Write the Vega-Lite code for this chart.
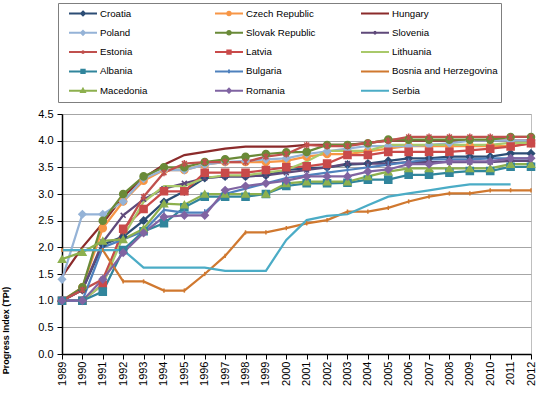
{
  "$schema": "https://vega.github.io/schema/vega-lite/v6.json",
  "autosize": "none",
  "width": 469,
  "height": 240,
  "padding": {"left": 62, "top": 114, "right": 18, "bottom": 43},
  "background": "white",
  "config": {
    "font": "Liberation Sans",
    "view": {"stroke": "#BFBFBF", "strokeWidth": 1}
  },
  "data": {"values": [
    {"country":"Croatia","year":1989,"tpi":1.0},{"country":"Croatia","year":1990,"tpi":1.2},{"country":"Croatia","year":1991,"tpi":2.05},{"country":"Croatia","year":1992,"tpi":2.2},{"country":"Croatia","year":1993,"tpi":2.5},{"country":"Croatia","year":1994,"tpi":2.85},{"country":"Croatia","year":1995,"tpi":3.05},{"country":"Croatia","year":1996,"tpi":3.3},{"country":"Croatia","year":1997,"tpi":3.33},{"country":"Croatia","year":1998,"tpi":3.33},{"country":"Croatia","year":1999,"tpi":3.35},{"country":"Croatia","year":2000,"tpi":3.45},{"country":"Croatia","year":2001,"tpi":3.48},{"country":"Croatia","year":2002,"tpi":3.5},{"country":"Croatia","year":2003,"tpi":3.55},{"country":"Croatia","year":2004,"tpi":3.57},{"country":"Croatia","year":2005,"tpi":3.62},{"country":"Croatia","year":2006,"tpi":3.67},{"country":"Croatia","year":2007,"tpi":3.67},{"country":"Croatia","year":2008,"tpi":3.7},{"country":"Croatia","year":2009,"tpi":3.7},{"country":"Croatia","year":2010,"tpi":3.7},{"country":"Croatia","year":2011,"tpi":3.76},{"country":"Croatia","year":2012,"tpi":3.76},
    {"country":"Czech Republic","year":1989,"tpi":1.0},{"country":"Czech Republic","year":1990,"tpi":1.25},{"country":"Czech Republic","year":1991,"tpi":2.36},{"country":"Czech Republic","year":1992,"tpi":2.86},{"country":"Czech Republic","year":1993,"tpi":3.25},{"country":"Czech Republic","year":1994,"tpi":3.45},{"country":"Czech Republic","year":1995,"tpi":3.45},{"country":"Czech Republic","year":1996,"tpi":3.55},{"country":"Czech Republic","year":1997,"tpi":3.6},{"country":"Czech Republic","year":1998,"tpi":3.6},{"country":"Czech Republic","year":1999,"tpi":3.6},{"country":"Czech Republic","year":2000,"tpi":3.62},{"country":"Czech Republic","year":2001,"tpi":3.7},{"country":"Czech Republic","year":2002,"tpi":3.75},{"country":"Czech Republic","year":2003,"tpi":3.75},{"country":"Czech Republic","year":2004,"tpi":3.8},{"country":"Czech Republic","year":2005,"tpi":3.85},{"country":"Czech Republic","year":2006,"tpi":3.9},{"country":"Czech Republic","year":2007,"tpi":3.9},{"country":"Czech Republic","year":2008,"tpi":3.9},{"country":"Czech Republic","year":2009,"tpi":3.9},{"country":"Czech Republic","year":2010,"tpi":3.9},{"country":"Czech Republic","year":2011,"tpi":3.9},{"country":"Czech Republic","year":2012,"tpi":3.95},
    {"country":"Hungary","year":1989,"tpi":1.45},{"country":"Hungary","year":1990,"tpi":2.0},{"country":"Hungary","year":1991,"tpi":2.45},{"country":"Hungary","year":1992,"tpi":2.95},{"country":"Hungary","year":1993,"tpi":3.3},{"country":"Hungary","year":1994,"tpi":3.55},{"country":"Hungary","year":1995,"tpi":3.73},{"country":"Hungary","year":1996,"tpi":3.79},{"country":"Hungary","year":1997,"tpi":3.85},{"country":"Hungary","year":1998,"tpi":3.89},{"country":"Hungary","year":1999,"tpi":3.89},{"country":"Hungary","year":2000,"tpi":3.89},{"country":"Hungary","year":2001,"tpi":3.92},{"country":"Hungary","year":2002,"tpi":3.92},{"country":"Hungary","year":2003,"tpi":3.92},{"country":"Hungary","year":2004,"tpi":3.96},{"country":"Hungary","year":2005,"tpi":4.0},{"country":"Hungary","year":2006,"tpi":4.0},{"country":"Hungary","year":2007,"tpi":4.0},{"country":"Hungary","year":2008,"tpi":4.0},{"country":"Hungary","year":2009,"tpi":4.0},{"country":"Hungary","year":2010,"tpi":4.0},{"country":"Hungary","year":2011,"tpi":4.0},{"country":"Hungary","year":2012,"tpi":4.0},
    {"country":"Poland","year":1989,"tpi":1.4},{"country":"Poland","year":1990,"tpi":2.62},{"country":"Poland","year":1991,"tpi":2.62},{"country":"Poland","year":1992,"tpi":2.86},{"country":"Poland","year":1993,"tpi":3.29},{"country":"Poland","year":1994,"tpi":3.45},{"country":"Poland","year":1995,"tpi":3.45},{"country":"Poland","year":1996,"tpi":3.55},{"country":"Poland","year":1997,"tpi":3.6},{"country":"Poland","year":1998,"tpi":3.62},{"country":"Poland","year":1999,"tpi":3.65},{"country":"Poland","year":2000,"tpi":3.67},{"country":"Poland","year":2001,"tpi":3.75},{"country":"Poland","year":2002,"tpi":3.8},{"country":"Poland","year":2003,"tpi":3.85},{"country":"Poland","year":2004,"tpi":3.9},{"country":"Poland","year":2005,"tpi":3.9},{"country":"Poland","year":2006,"tpi":3.9},{"country":"Poland","year":2007,"tpi":3.92},{"country":"Poland","year":2008,"tpi":3.95},{"country":"Poland","year":2009,"tpi":4.0},{"country":"Poland","year":2010,"tpi":4.0},{"country":"Poland","year":2011,"tpi":4.0},{"country":"Poland","year":2012,"tpi":4.0},
    {"country":"Slovak Republic","year":1989,"tpi":1.0},{"country":"Slovak Republic","year":1990,"tpi":1.25},{"country":"Slovak Republic","year":1991,"tpi":2.5},{"country":"Slovak Republic","year":1992,"tpi":3.0},{"country":"Slovak Republic","year":1993,"tpi":3.33},{"country":"Slovak Republic","year":1994,"tpi":3.5},{"country":"Slovak Republic","year":1995,"tpi":3.5},{"country":"Slovak Republic","year":1996,"tpi":3.6},{"country":"Slovak Republic","year":1997,"tpi":3.65},{"country":"Slovak Republic","year":1998,"tpi":3.7},{"country":"Slovak Republic","year":1999,"tpi":3.75},{"country":"Slovak Republic","year":2000,"tpi":3.78},{"country":"Slovak Republic","year":2001,"tpi":3.79},{"country":"Slovak Republic","year":2002,"tpi":3.92},{"country":"Slovak Republic","year":2003,"tpi":3.92},{"country":"Slovak Republic","year":2004,"tpi":3.95},{"country":"Slovak Republic","year":2005,"tpi":4.02},{"country":"Slovak Republic","year":2006,"tpi":4.02},{"country":"Slovak Republic","year":2007,"tpi":4.02},{"country":"Slovak Republic","year":2008,"tpi":4.02},{"country":"Slovak Republic","year":2009,"tpi":4.02},{"country":"Slovak Republic","year":2010,"tpi":4.02},{"country":"Slovak Republic","year":2011,"tpi":4.07},{"country":"Slovak Republic","year":2012,"tpi":4.07},
    {"country":"Slovenia","year":1989,"tpi":1.0},{"country":"Slovenia","year":1990,"tpi":1.2},{"country":"Slovenia","year":1991,"tpi":2.1},{"country":"Slovenia","year":1992,"tpi":2.6},{"country":"Slovenia","year":1993,"tpi":2.9},{"country":"Slovenia","year":1994,"tpi":3.1},{"country":"Slovenia","year":1995,"tpi":3.2},{"country":"Slovenia","year":1996,"tpi":3.3},{"country":"Slovenia","year":1997,"tpi":3.33},{"country":"Slovenia","year":1998,"tpi":3.33},{"country":"Slovenia","year":1999,"tpi":3.35},{"country":"Slovenia","year":2000,"tpi":3.4},{"country":"Slovenia","year":2001,"tpi":3.45},{"country":"Slovenia","year":2002,"tpi":3.5},{"country":"Slovenia","year":2003,"tpi":3.57},{"country":"Slovenia","year":2004,"tpi":3.57},{"country":"Slovenia","year":2005,"tpi":3.57},{"country":"Slovenia","year":2006,"tpi":3.6},{"country":"Slovenia","year":2007,"tpi":3.6},{"country":"Slovenia","year":2008,"tpi":3.6},{"country":"Slovenia","year":2009,"tpi":3.6},{"country":"Slovenia","year":2010,"tpi":3.6},{"country":"Slovenia","year":2011,"tpi":3.62},{"country":"Slovenia","year":2012,"tpi":3.62},
    {"country":"Estonia","year":1989,"tpi":1.0},{"country":"Estonia","year":1990,"tpi":1.2},{"country":"Estonia","year":1991,"tpi":1.4},{"country":"Estonia","year":1992,"tpi":2.3},{"country":"Estonia","year":1993,"tpi":2.95},{"country":"Estonia","year":1994,"tpi":3.4},{"country":"Estonia","year":1995,"tpi":3.57},{"country":"Estonia","year":1996,"tpi":3.6},{"country":"Estonia","year":1997,"tpi":3.6},{"country":"Estonia","year":1998,"tpi":3.6},{"country":"Estonia","year":1999,"tpi":3.7},{"country":"Estonia","year":2000,"tpi":3.75},{"country":"Estonia","year":2001,"tpi":3.92},{"country":"Estonia","year":2002,"tpi":3.9},{"country":"Estonia","year":2003,"tpi":3.9},{"country":"Estonia","year":2004,"tpi":3.96},{"country":"Estonia","year":2005,"tpi":4.0},{"country":"Estonia","year":2006,"tpi":4.07},{"country":"Estonia","year":2007,"tpi":4.07},{"country":"Estonia","year":2008,"tpi":4.07},{"country":"Estonia","year":2009,"tpi":4.07},{"country":"Estonia","year":2010,"tpi":4.07},{"country":"Estonia","year":2011,"tpi":4.07},{"country":"Estonia","year":2012,"tpi":4.07},
    {"country":"Latvia","year":1989,"tpi":1.0},{"country":"Latvia","year":1990,"tpi":1.0},{"country":"Latvia","year":1991,"tpi":1.3},{"country":"Latvia","year":1992,"tpi":2.35},{"country":"Latvia","year":1993,"tpi":2.72},{"country":"Latvia","year":1994,"tpi":3.05},{"country":"Latvia","year":1995,"tpi":3.05},{"country":"Latvia","year":1996,"tpi":3.4},{"country":"Latvia","year":1997,"tpi":3.4},{"country":"Latvia","year":1998,"tpi":3.4},{"country":"Latvia","year":1999,"tpi":3.45},{"country":"Latvia","year":2000,"tpi":3.5},{"country":"Latvia","year":2001,"tpi":3.52},{"country":"Latvia","year":2002,"tpi":3.57},{"country":"Latvia","year":2003,"tpi":3.73},{"country":"Latvia","year":2004,"tpi":3.73},{"country":"Latvia","year":2005,"tpi":3.79},{"country":"Latvia","year":2006,"tpi":3.79},{"country":"Latvia","year":2007,"tpi":3.79},{"country":"Latvia","year":2008,"tpi":3.79},{"country":"Latvia","year":2009,"tpi":3.82},{"country":"Latvia","year":2010,"tpi":3.85},{"country":"Latvia","year":2011,"tpi":3.89},{"country":"Latvia","year":2012,"tpi":3.95},
    {"country":"Lithuania","year":1989,"tpi":1.0},{"country":"Lithuania","year":1990,"tpi":1.0},{"country":"Lithuania","year":1991,"tpi":1.3},{"country":"Lithuania","year":1992,"tpi":2.2},{"country":"Lithuania","year":1993,"tpi":2.85},{"country":"Lithuania","year":1994,"tpi":3.15},{"country":"Lithuania","year":1995,"tpi":3.15},{"country":"Lithuania","year":1996,"tpi":3.3},{"country":"Lithuania","year":1997,"tpi":3.35},{"country":"Lithuania","year":1998,"tpi":3.35},{"country":"Lithuania","year":1999,"tpi":3.4},{"country":"Lithuania","year":2000,"tpi":3.45},{"country":"Lithuania","year":2001,"tpi":3.61},{"country":"Lithuania","year":2002,"tpi":3.81},{"country":"Lithuania","year":2003,"tpi":3.81},{"country":"Lithuania","year":2004,"tpi":3.81},{"country":"Lithuania","year":2005,"tpi":3.92},{"country":"Lithuania","year":2006,"tpi":3.92},{"country":"Lithuania","year":2007,"tpi":3.92},{"country":"Lithuania","year":2008,"tpi":3.92},{"country":"Lithuania","year":2009,"tpi":3.92},{"country":"Lithuania","year":2010,"tpi":3.92},{"country":"Lithuania","year":2011,"tpi":3.96},{"country":"Lithuania","year":2012,"tpi":3.96},
    {"country":"Albania","year":1989,"tpi":1.0},{"country":"Albania","year":1990,"tpi":1.0},{"country":"Albania","year":1991,"tpi":1.17},{"country":"Albania","year":1992,"tpi":1.95},{"country":"Albania","year":1993,"tpi":2.3},{"country":"Albania","year":1994,"tpi":2.45},{"country":"Albania","year":1995,"tpi":2.75},{"country":"Albania","year":1996,"tpi":2.95},{"country":"Albania","year":1997,"tpi":2.95},{"country":"Albania","year":1998,"tpi":2.95},{"country":"Albania","year":1999,"tpi":3.0},{"country":"Albania","year":2000,"tpi":3.15},{"country":"Albania","year":2001,"tpi":3.2},{"country":"Albania","year":2002,"tpi":3.2},{"country":"Albania","year":2003,"tpi":3.21},{"country":"Albania","year":2004,"tpi":3.27},{"country":"Albania","year":2005,"tpi":3.27},{"country":"Albania","year":2006,"tpi":3.36},{"country":"Albania","year":2007,"tpi":3.36},{"country":"Albania","year":2008,"tpi":3.4},{"country":"Albania","year":2009,"tpi":3.43},{"country":"Albania","year":2010,"tpi":3.43},{"country":"Albania","year":2011,"tpi":3.51},{"country":"Albania","year":2012,"tpi":3.51},
    {"country":"Bulgaria","year":1989,"tpi":1.0},{"country":"Bulgaria","year":1990,"tpi":1.0},{"country":"Bulgaria","year":1991,"tpi":2.0},{"country":"Bulgaria","year":1992,"tpi":2.15},{"country":"Bulgaria","year":1993,"tpi":2.3},{"country":"Bulgaria","year":1994,"tpi":2.7},{"country":"Bulgaria","year":1995,"tpi":2.65},{"country":"Bulgaria","year":1996,"tpi":2.65},{"country":"Bulgaria","year":1997,"tpi":3.0},{"country":"Bulgaria","year":1998,"tpi":3.1},{"country":"Bulgaria","year":1999,"tpi":3.2},{"country":"Bulgaria","year":2000,"tpi":3.3},{"country":"Bulgaria","year":2001,"tpi":3.35},{"country":"Bulgaria","year":2002,"tpi":3.4},{"country":"Bulgaria","year":2003,"tpi":3.45},{"country":"Bulgaria","year":2004,"tpi":3.5},{"country":"Bulgaria","year":2005,"tpi":3.55},{"country":"Bulgaria","year":2006,"tpi":3.6},{"country":"Bulgaria","year":2007,"tpi":3.65},{"country":"Bulgaria","year":2008,"tpi":3.65},{"country":"Bulgaria","year":2009,"tpi":3.65},{"country":"Bulgaria","year":2010,"tpi":3.67},{"country":"Bulgaria","year":2011,"tpi":3.67},{"country":"Bulgaria","year":2012,"tpi":3.67},
    {"country":"Bosnia and Herzegovina","year":1989,"tpi":1.95},{"country":"Bosnia and Herzegovina","year":1990,"tpi":1.95},{"country":"Bosnia and Herzegovina","year":1991,"tpi":1.95},{"country":"Bosnia and Herzegovina","year":1992,"tpi":1.36},{"country":"Bosnia and Herzegovina","year":1993,"tpi":1.36},{"country":"Bosnia and Herzegovina","year":1994,"tpi":1.19},{"country":"Bosnia and Herzegovina","year":1995,"tpi":1.19},{"country":"Bosnia and Herzegovina","year":1996,"tpi":1.5},{"country":"Bosnia and Herzegovina","year":1997,"tpi":1.84},{"country":"Bosnia and Herzegovina","year":1998,"tpi":2.28},{"country":"Bosnia and Herzegovina","year":1999,"tpi":2.28},{"country":"Bosnia and Herzegovina","year":2000,"tpi":2.36},{"country":"Bosnia and Herzegovina","year":2001,"tpi":2.45},{"country":"Bosnia and Herzegovina","year":2002,"tpi":2.51},{"country":"Bosnia and Herzegovina","year":2003,"tpi":2.67},{"country":"Bosnia and Herzegovina","year":2004,"tpi":2.67},{"country":"Bosnia and Herzegovina","year":2005,"tpi":2.74},{"country":"Bosnia and Herzegovina","year":2006,"tpi":2.86},{"country":"Bosnia and Herzegovina","year":2007,"tpi":2.95},{"country":"Bosnia and Herzegovina","year":2008,"tpi":3.01},{"country":"Bosnia and Herzegovina","year":2009,"tpi":3.01},{"country":"Bosnia and Herzegovina","year":2010,"tpi":3.07},{"country":"Bosnia and Herzegovina","year":2011,"tpi":3.07},{"country":"Bosnia and Herzegovina","year":2012,"tpi":3.07},
    {"country":"Macedonia","year":1989,"tpi":1.78},{"country":"Macedonia","year":1990,"tpi":1.91},{"country":"Macedonia","year":1991,"tpi":2.12},{"country":"Macedonia","year":1992,"tpi":2.15},{"country":"Macedonia","year":1993,"tpi":2.35},{"country":"Macedonia","year":1994,"tpi":2.82},{"country":"Macedonia","year":1995,"tpi":2.8},{"country":"Macedonia","year":1996,"tpi":3.0},{"country":"Macedonia","year":1997,"tpi":3.0},{"country":"Macedonia","year":1998,"tpi":3.0},{"country":"Macedonia","year":1999,"tpi":3.0},{"country":"Macedonia","year":2000,"tpi":3.2},{"country":"Macedonia","year":2001,"tpi":3.23},{"country":"Macedonia","year":2002,"tpi":3.23},{"country":"Macedonia","year":2003,"tpi":3.23},{"country":"Macedonia","year":2004,"tpi":3.33},{"country":"Macedonia","year":2005,"tpi":3.42},{"country":"Macedonia","year":2006,"tpi":3.48},{"country":"Macedonia","year":2007,"tpi":3.48},{"country":"Macedonia","year":2008,"tpi":3.48},{"country":"Macedonia","year":2009,"tpi":3.48},{"country":"Macedonia","year":2010,"tpi":3.48},{"country":"Macedonia","year":2011,"tpi":3.56},{"country":"Macedonia","year":2012,"tpi":3.56},
    {"country":"Romania","year":1989,"tpi":1.0},{"country":"Romania","year":1990,"tpi":1.0},{"country":"Romania","year":1991,"tpi":1.4},{"country":"Romania","year":1992,"tpi":1.9},{"country":"Romania","year":1993,"tpi":2.27},{"country":"Romania","year":1994,"tpi":2.57},{"country":"Romania","year":1995,"tpi":2.6},{"country":"Romania","year":1996,"tpi":2.6},{"country":"Romania","year":1997,"tpi":3.07},{"country":"Romania","year":1998,"tpi":3.15},{"country":"Romania","year":1999,"tpi":3.2},{"country":"Romania","year":2000,"tpi":3.25},{"country":"Romania","year":2001,"tpi":3.33},{"country":"Romania","year":2002,"tpi":3.33},{"country":"Romania","year":2003,"tpi":3.33},{"country":"Romania","year":2004,"tpi":3.42},{"country":"Romania","year":2005,"tpi":3.46},{"country":"Romania","year":2006,"tpi":3.56},{"country":"Romania","year":2007,"tpi":3.56},{"country":"Romania","year":2008,"tpi":3.61},{"country":"Romania","year":2009,"tpi":3.61},{"country":"Romania","year":2010,"tpi":3.61},{"country":"Romania","year":2011,"tpi":3.67},{"country":"Romania","year":2012,"tpi":3.67},
    {"country":"Serbia","year":1989,"tpi":1.95},{"country":"Serbia","year":1990,"tpi":1.95},{"country":"Serbia","year":1991,"tpi":1.95},{"country":"Serbia","year":1992,"tpi":1.95},{"country":"Serbia","year":1993,"tpi":1.62},{"country":"Serbia","year":1994,"tpi":1.62},{"country":"Serbia","year":1995,"tpi":1.62},{"country":"Serbia","year":1996,"tpi":1.62},{"country":"Serbia","year":1997,"tpi":1.56},{"country":"Serbia","year":1998,"tpi":1.56},{"country":"Serbia","year":1999,"tpi":1.56},{"country":"Serbia","year":2000,"tpi":2.14},{"country":"Serbia","year":2001,"tpi":2.51},{"country":"Serbia","year":2002,"tpi":2.59},{"country":"Serbia","year":2003,"tpi":2.62},{"country":"Serbia","year":2004,"tpi":2.79},{"country":"Serbia","year":2005,"tpi":2.95},{"country":"Serbia","year":2006,"tpi":3.01},{"country":"Serbia","year":2007,"tpi":3.07},{"country":"Serbia","year":2008,"tpi":3.13},{"country":"Serbia","year":2009,"tpi":3.18},{"country":"Serbia","year":2010,"tpi":3.18},{"country":"Serbia","year":2011,"tpi":3.18}
  ]},
  "encoding": {
    "x": {
      "field": "year", "type": "ordinal",
      "scale": {"type": "point", "padding": 0},
      "axis": {
        "title": null, "labelAngle": 270, "labelFontSize": 11, "labelColor": "#000",
        "domainColor": "#000", "domainWidth": 1.5, "tickColor": "#000", "tickSize": 5,
        "labelPadding": 2, "grid": false
      }
    },
    "y": {
      "field": "tpi", "type": "quantitative",
      "scale": {"domain": [0, 4.5], "nice": false},
      "axis": {
        "title": "Progress Index (TPI)", "titleFontSize": 9, "titleFontWeight": "bold",
        "titleColor": "#000", "titleAngle": 270, "titleX": -52, "titleY": 216,
        "values": [0, 0.5, 1, 1.5, 2, 2.5, 3, 3.5, 4, 4.5], "format": ".1f",
        "labelFontSize": 11, "labelColor": "#000", "labelPadding": 4,
        "domainColor": "#000", "domainWidth": 1.5, "tickColor": "#000", "tickSize": 5,
        "gridColor": "#A6A6A6", "gridWidth": 1
      }
    },
    "color": {
      "field": "country", "type": "nominal",
      "scale": {
        "domain": ["Croatia","Czech Republic","Hungary","Poland","Slovak Republic","Slovenia","Estonia","Latvia","Lithuania","Albania","Bulgaria","Bosnia and Herzegovina","Macedonia","Romania","Serbia"],
        "range": ["#2C4D75","#F79646","#8B2B2B","#95B3D7","#6A8A38","#5F497A","#C0504D","#C94A4A","#A9C96A","#31859C","#4F81BD","#D0782F","#8DB04E","#8064A2","#4BACC6"]
      },
      "legend": {
        "title": null, "orient": "none", "legendX": -4, "legendY": -111,
        "direction": "horizontal", "columns": 3, "gridAlign": "all",
        "columnPadding": 1, "rowPadding": 4.3, "padding": 3, "clipHeight": 15,
        "strokeColor": "#7F7F7F", "fillColor": "white",
        "labelFont": "Liberation Sans", "labelFontSize": 9.7, "labelColor": "#000", "labelOffset": 2, "labelLimit": 200,
        "symbolSize": 784, "symbolStrokeWidth": 2, "symbolOffset": 7,
        "encode": {
          "symbols": {"update": {
            "shape": {"signal": "['M-1,0L1,0M0,-0.14L0.14,0L0,0.14L-0.14,0Z','M-1,0L1,0M-0.12,0A0.12,0.12,0,1,0,0.12,0A0.12,0.12,0,1,0,-0.12,0Z','M-1,0L1,0','M-1,0L1,0M0,-0.14L0.14,0L0,0.14L-0.14,0Z','M-1,0L1,0M-0.12,0A0.12,0.12,0,1,0,0.12,0A0.12,0.12,0,1,0,-0.12,0Z','M-1,0L1,0M-0.09,-0.09L0.09,0.09M-0.09,0.09L0.09,-0.09','M-1,0L1,0M-0.09,-0.09L0.09,0.09M-0.09,0.09L0.09,-0.09M0,-0.12L0,0.12','M-1,0L1,0M-0.12,-0.12L0.12,-0.12L0.12,0.12L-0.12,0.12Z','M-1,0L1,0','M-1,0L1,0M-0.12,-0.12L0.12,-0.12L0.12,0.12L-0.12,0.12Z','M-1,0L1,0M0,-0.13L0,0.13','M-1,0L1,0M0,-0.06L0,0.06','M-1,0L1,0M0,-0.13L0.13,0.1L-0.13,0.1Z','M-1,0L1,0M0,-0.14L0.14,0L0,0.14L-0.14,0Z','M-1,0L1,0'][indexof(['Croatia','Czech Republic','Hungary','Poland','Slovak Republic','Slovenia','Estonia','Latvia','Lithuania','Albania','Bulgaria','Bosnia and Herzegovina','Macedonia','Romania','Serbia'], datum.value)]"},
            "stroke": {"scale": "color", "field": "value"},
            "fill": {"scale": "color", "field": "value"},
            "strokeWidth": {"value": 2},
            "opacity": {"value": 1}
          }}
        }
      }
    }
  },
  "layer": [
    {
      "mark": {"type": "line", "strokeWidth": 2.25}
    },
    {
      "transform": [{"filter": "datum.country !== 'Hungary' && datum.country !== 'Lithuania' && datum.country !== 'Serbia'"}],
      "mark": {"type": "point", "filled": true, "size": 50, "opacity": 1, "strokeWidth": 1.5},
      "encoding": {
        "shape": {
          "field": "country", "type": "nominal", "legend": null,
          "scale": {
            "domain": ["Croatia","Czech Republic","Poland","Slovak Republic","Slovenia","Estonia","Latvia","Albania","Bulgaria","Bosnia and Herzegovina","Macedonia","Romania"],
            "range": ["M0,-1L1,0L0,1L-1,0Z","circle","M0,-1L1,0L0,1L-1,0Z","circle","M-0.7,-0.7L0.7,0.7M-0.7,0.7L0.7,-0.7","M-0.7,-0.7L0.7,0.7M-0.7,0.7L0.7,-0.7M0,-1L0,1","square","square","M0,-1L0,1","M0,-0.6L0,0.6","triangle-up","M0,-1L1,0L0,1L-1,0Z"]
          }
        },
        "stroke": {
          "field": "country", "type": "nominal", "legend": null,
          "scale": {
            "domain": ["Croatia","Czech Republic","Hungary","Poland","Slovak Republic","Slovenia","Estonia","Latvia","Lithuania","Albania","Bulgaria","Bosnia and Herzegovina","Macedonia","Romania","Serbia"],
            "range": ["#2C4D75","#F79646","#8B2B2B","#95B3D7","#6A8A38","#5F497A","#C0504D","#C94A4A","#A9C96A","#31859C","#4F81BD","#D0782F","#8DB04E","#8064A2","#4BACC6"]
          }
        }
      }
    }
  ]
}
